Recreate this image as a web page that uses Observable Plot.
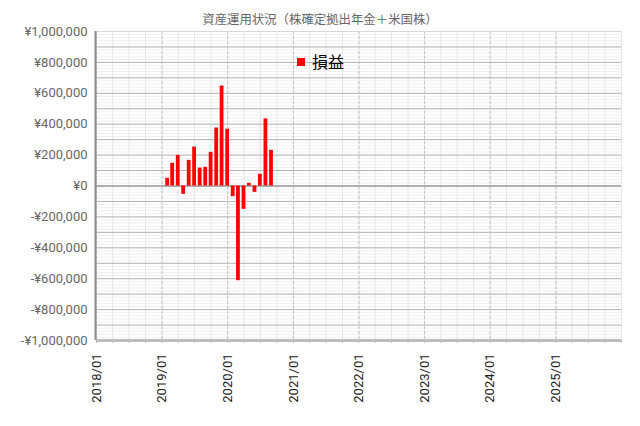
<!DOCTYPE html>
<html>
<head>
<meta charset="utf-8">
<script src="https://cdn.jsdelivr.net/npm/d3@7"></script>
<script src="https://cdn.jsdelivr.net/npm/@observablehq/plot@0.6"></script>
<style>
  html, body { margin: 0; padding: 0; background: #fff; }
  #wrap { position: relative; width: 640px; height: 426px; font-family: Roboto, "Noto Sans CJK JP", sans-serif; }
  #title { position: absolute; left: 0; width: 640px; top: 11px; text-align: center; font-size: 12.4px; color: #666; font-family: "Noto Sans CJK JP", Roboto, sans-serif; line-height: 16px; }
  #legend { position: absolute; left: 297px; top: 51px; height: 21px; display: flex; align-items: center; font-family: "Noto Sans CJK JP", sans-serif; font-size: 16px; line-height: 21px; color: #000; }
  #legend .sw { width: 8px; height: 8px; background: #ff0000; margin-right: 7px; }
</style>
</head>
<body>
<div id="wrap">
  <div id="title">資産運用状況（株確定拠出年金＋米国株）</div>
  <div id="chart"></div>
  <div id="legend"><span class="sw"></span><span id="legendText"></span></div>
</div>
<script>
const months = ["2019/02","2019/03","2019/04","2019/05","2019/06","2019/07","2019/08","2019/09","2019/10","2019/11","2019/12",
                "2020/01","2020/02","2020/03","2020/04","2020/05","2020/06","2020/07","2020/08","2020/09"];
const profit = [50000,147000,198000,-54000,166000,252000,116000,121000,218000,375000,647000,
                367000,-69000,-613000,-151000,17000,-41000,76000,434000,231000];
const seriesName = "損益";
const yTicks = d3.range(-1000000, 1000001, 200000);
const xStart = "2018/01", xEnd = "2026/01";

document.getElementById("legendText").textContent = seriesName;

const parse = d3.utcParse("%Y/%m");
const data = months.map((m, i) => ({date: parse(m), value: profit[i]}));
const x0 = parse(xStart), x1 = parse(xEnd);
const yearTicks = d3.utcYear.range(x0, x1);
const quarterTicks = d3.utcMonth.every(3).range(x0, d3.utcDay.offset(x1, 1));
const yMinor = d3.range(-1000000, 1000001, 20000);
const yMajor = d3.range(-1000000, 1000001, 100000);
const yen = d => (d < 0 ? "-" : "") + "¥" + d3.format(",")(Math.abs(d));

const chart = Plot.plot({
  width: 640,
  height: 426,
  marginTop: 31,
  marginBottom: 86,
  marginLeft: 96,
  marginRight: 19,
  style: {fontFamily: "Roboto, sans-serif", fontSize: "13px", background: "transparent"},
  x: {type: "utc", domain: [x0, x1]},
  y: {domain: [-1000000, 1000000]},
  marks: [
    Plot.ruleY(yMinor, {stroke: "#efefef", strokeWidth: 1}),
    Plot.ruleX(quarterTicks, {stroke: "#e6e6e6", strokeWidth: 1}),
    Plot.ruleY(yMajor, {stroke: "#b4b4b4", strokeWidth: 1}),
    Plot.ruleX(yearTicks, {stroke: "#c4c4c4", strokeWidth: 1, strokeDasharray: "3,2"}),
    Plot.ruleY([0], {stroke: "#8a8a8a", strokeWidth: 1}),
    Plot.ruleY([1000000], {stroke: "#d8d8d8", strokeWidth: 1}),
    Plot.rectY(data, {
      x1: d => d3.utcHour.offset(d.date, -252),
      x2: d => d3.utcHour.offset(d.date, 252),
      y1: 0, y2: "value", fill: "#ff0000"
    }),
    Plot.ruleY([-1000000], {stroke: "#bdbdbd", strokeWidth: 3}),
    Plot.ruleX([x0], {stroke: "#8c8c8c", strokeWidth: 2, dx: -1}),
    Plot.axisY({ticks: yTicks, tickFormat: yen, tickSize: 0, tickPadding: 9, fill: "#666", label: null}),
    Plot.axisX({ticks: quarterTicks, tickFormat: null, text: null, tickSize: 3, stroke: "#bdbdbd", label: null}),
    Plot.axisX({ticks: yearTicks, tickFormat: d3.utcFormat("%Y/%m"), tickSize: 0, tickPadding: 13, tickRotate: -90, fill: "#222", label: null})
  ]
});
document.getElementById("chart").appendChild(chart);
</script>
</body>
</html>
